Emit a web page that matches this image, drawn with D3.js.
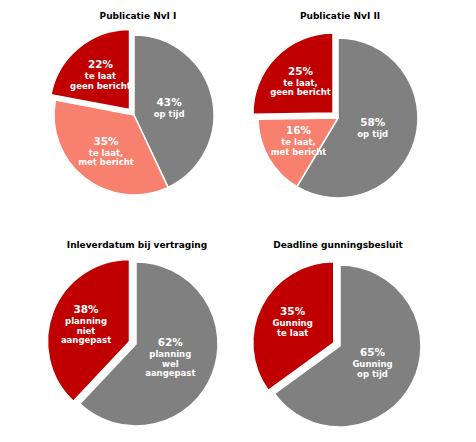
<!DOCTYPE html>
<html>
<head>
<meta charset="utf-8">
<script src="https://cdn.jsdelivr.net/npm/d3@7"></script>
<style>
  body { margin: 0; background: #fff; }
  svg { display: block; }
  .title { font-family: "DejaVu Sans", Verdana, sans-serif; font-weight: bold; font-size: 9px; fill: #000; }
  .label { font-family: "DejaVu Sans", Verdana, sans-serif; font-weight: bold; fill: #fff; text-anchor: middle; }
</style>
</head>
<body>
<svg width="476" height="442"></svg>
<script>
// Data
const titles = ["Publicatie NvI I", "Publicatie NvI II", "Inleverdatum bij vertraging", "Deadline gunningsbesluit"];

const nvi1Values = [43, 35, 22];
const nvi1Labels = [["43%", "op tijd"], ["35%", "te laat,", "met bericht"], ["22%", "te laat", "geen bericht"]];

const nvi2Values = [58, 16, 25];
const nvi2Labels = [["58%", "op tijd"], ["16%", "te laat,", "met bericht"], ["25%", "te laat,", "geen bericht"]];

const inleverValues = [62, 38];
const inleverLabels = [["62%", "planning", "wel", "aangepast"], ["38%", "planning", "niet", "aangepast"]];

const deadlineValues = [65, 35];
const deadlineLabels = [["65%", "Gunning", "op tijd"], ["35%", "Gunning", "te laat"]];

const gray = "#808080", salmon = "#f8806f", red = "#c00000";

// layout per chart
const charts = [
    { title: titles[0], values: nvi1Values, labels: nvi1Labels, colors: [gray, salmon, red], cx: 134, cy: 115, r: 80, tx: 138, ty: 19 },
    { title: titles[1], values: nvi2Values, labels: nvi2Labels, colors: [gray, salmon, red], cx: 338, cy: 118, r: 80, tx: 340, ty: 19 },
    { title: titles[2], values: inleverValues, labels: inleverLabels, colors: [gray, red], cx: 136, cy: 344, r: 82, tx: 137, ty: 248 },
    { title: titles[3], values: deadlineValues, labels: deadlineLabels, colors: [gray, red], cx: 340, cy: 346, r: 81, tx: 338, ty: 248 }
];

const svg = d3.select("svg");
const explode = 7;

const pie = d3.pie().sort(null).startAngle(0).endAngle(2 * Math.PI);

charts.forEach(c => {
    svg.append("text")
        .attr("class", "title")
        .attr("x", c.tx)
        .attr("y", c.ty)
        .attr("text-anchor", "middle")
        .text(c.title);

    const g = svg.append("g").attr("transform", `translate(${c.cx},${c.cy})`);
    const arc = d3.arc().innerRadius(0).outerRadius(c.r);
    const arcs = pie(c.values);
    const last = arcs.length - 1;

    // red slice is pulled out
    const shift = (d, i) => {
        if (i !== last) return [0, 0];
        const mid = (d.startAngle + d.endAngle) / 2;
        return [Math.sin(mid) * explode, -Math.cos(mid) * explode];
    };

    g.selectAll(".slice")
        .data(arcs)
        .enter().append("path")
        .attr("class", "slice")
        .attr("transform", (d, i) => `translate(${shift(d, i)})`)
        .attr("d", arc)
        .attr("fill", (d, i) => c.colors[i])
        .attr("stroke", "#fff")
        .attr("stroke-width", 1.5)
        .attr("stroke-linejoin", "round");

    arcs.forEach((d, i) => {
        const lr = c.r * (i === 0 ? 0.45 : 0.57);
        const pos = d3.arc().innerRadius(lr).outerRadius(lr).centroid(d);
        const s = shift(d, i);
        const lines = c.labels[i];
        const offs = lines.map((l, k) => k === 0 ? 0 : 11 + (k - 1) * 9.5);
        const top = -7.7, bottom = offs[offs.length - 1];
        const y0 = pos[1] + s[1] - (top + bottom) / 2;
        const t = g.append("text")
            .attr("class", "label")
            .attr("x", pos[0] + s[0])
            .attr("y", y0);
        lines.forEach((l, k) => {
            t.append("tspan")
                .attr("x", pos[0] + s[0])
                .attr("y", y0 + offs[k])
                .style("font-size", k === 0 ? "10.5px" : "8.5px")
                .text(l);
        });
    });
});
</script>
</body>
</html>
